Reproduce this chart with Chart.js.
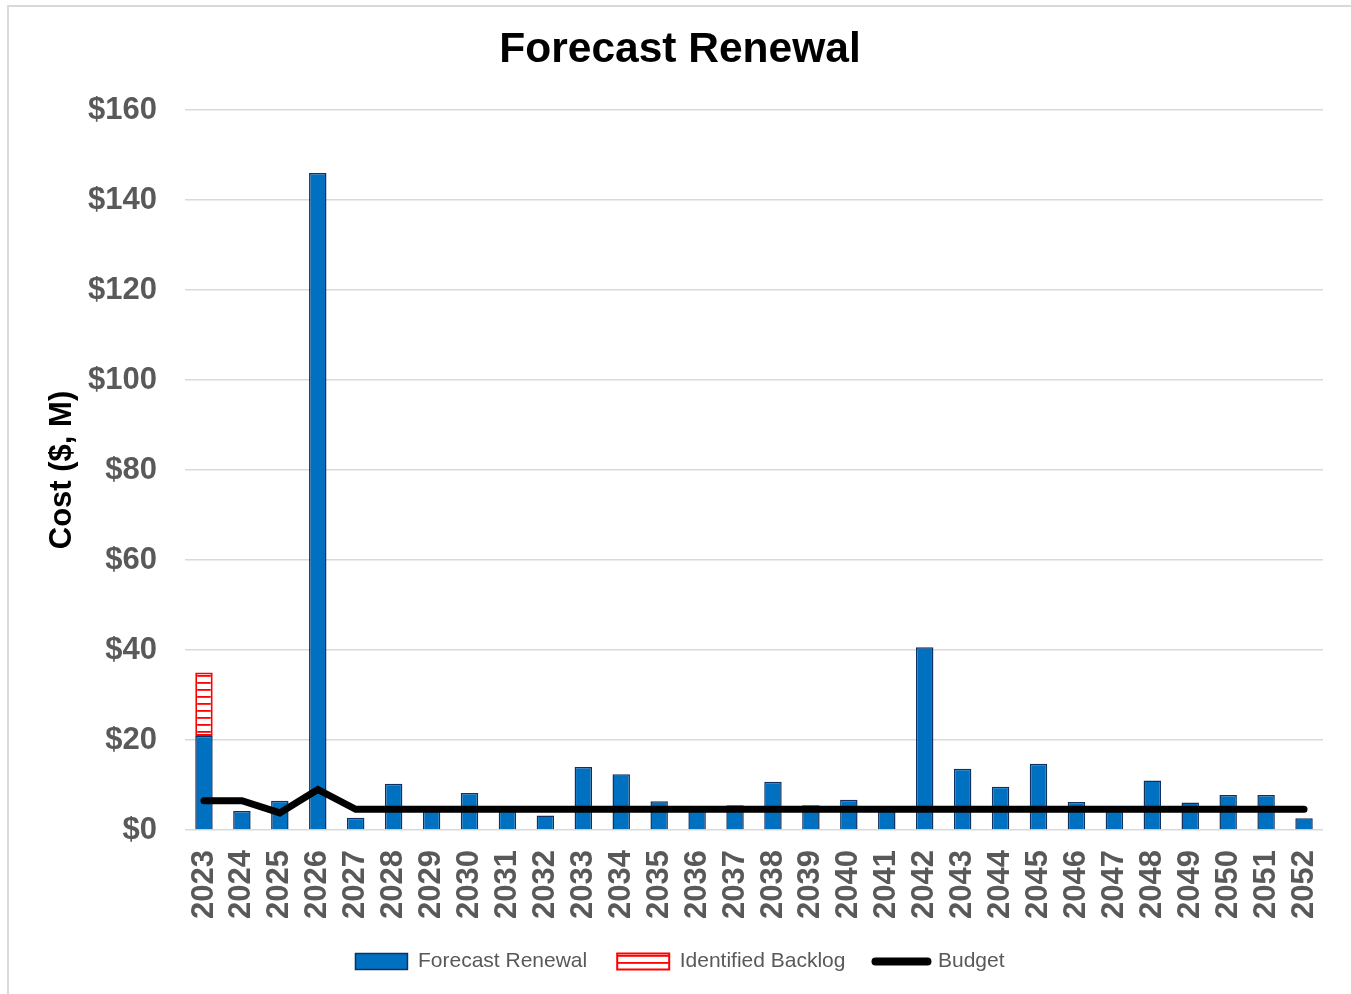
<!DOCTYPE html>
<html>
<head>
<meta charset="utf-8">
<script src="https://cdn.jsdelivr.net/npm/chart.js@4.4.0/dist/chart.umd.min.js"></script>
<style>
  html, body { margin: 0; padding: 0; background: #fff; overflow: hidden; }
  #wrap {
    position: absolute; left: 7px; top: 5px;
    width: 1342px; height: 987px;
    border-left: 2px solid #d9d9d9; border-top: 2px solid #d9d9d9;
  }
</style>
</head>
<body>
<div id="wrap"><canvas id="chart" width="1342" height="987"></canvas></div>
<script>
// Years on the x axis
const years = ['2023', '2024', '2025', '2026', '2027', '2028', '2029', '2030', '2031', '2032',
    '2033', '2034', '2035', '2036', '2037', '2038', '2039', '2040', '2041', '2042',
    '2043', '2044', '2045', '2046', '2047', '2048', '2049', '2050', '2051', '2052'];

// $M per year
const forecastRenewal = [20.9, 4.2, 6.5, 146, 2.7, 10.3, 4.5, 8.2, 4.5, 3.2,
    14.0, 12.4, 6.4, 4.5, 5.5, 10.7, 5.5, 6.7, 4.5, 40.6,
    13.6, 9.6, 14.7, 6.2, 4.5, 11.0, 6.1, 7.8, 7.8, 2.6];

const identifiedBacklog = [14.1, null, null, null, null, null, null, null, null, null,
    null, null, null, null, null, null, null, null, null, null,
    null, null, null, null, null, null, null, null, null, null];

const budget = [6.5, 6.5, 3.8, 9.0, 4.6, 4.6, 4.6, 4.6, 4.6, 4.6,
    4.6, 4.6, 4.6, 4.6, 4.6, 4.6, 4.6, 4.6, 4.6, 4.6,
    4.6, 4.6, 4.6, 4.6, 4.6, 4.6, 4.6, 4.6, 4.6, 4.6];

const yTicks = [0, 20, 40, 60, 80, 100, 120, 140, 160];

const FONT = "'Liberation Sans', Arial, sans-serif";
const GREY = '#595959';

// Red horizontal hatch used for the backlog bar
function makeHatch() {
    const c = document.createElement('canvas');
    c.width = 8; c.height = 7.5;
    const g = c.getContext('2d');
    g.fillStyle = '#fff';
    g.fillRect(0, 0, 8, 8);
    g.fillStyle = '#ff0000';
    g.fillRect(0, 3, 8, 1.8);
    return g.createPattern(c, 'repeat');
}
const hatch = makeHatch();

const ctx = document.getElementById('chart').getContext('2d');

new Chart(ctx, {
    type: 'bar',
    data: {
        labels: years,
        datasets: [
            {
                label: 'Forecast Renewal',
                data: forecastRenewal,
                backgroundColor: '#0070c0',
                borderColor: '#12305f',
                borderWidth: 1.5,
                borderSkipped: 'bottom',
                barPercentage: 0.46,
                categoryPercentage: 1,
            },
            {
                label: 'Identified Backlog',
                data: identifiedBacklog,
                backgroundColor: hatch,
                borderColor: '#ff0000',
                borderWidth: 2,
                borderSkipped: false,
                barPercentage: 0.46,
                categoryPercentage: 1,
            },
            {
                type: 'line',
                label: 'Budget',
                data: budget,
                borderColor: '#000',
                backgroundColor: '#000',
                borderWidth: 7,
                pointRadius: 0,
                borderCapStyle: 'round',
                borderJoinStyle: 'miter',
                tension: 0,
                fill: false,
                order: -1,
            },
        ],
    },
    options: {
        responsive: false,
        animation: false,
        layout: { padding: { left: 28, right: 28, top: 0, bottom: 12 } },
        plugins: {
            title: {
                display: true,
                text: 'Forecast Renewal',
                color: '#000',
                font: { family: FONT, size: 42.5, weight: 'bold' },
                padding: { top: 18, bottom: 34 },
            },
            legend: {
                position: 'bottom',
                labels: {
                    color: GREY,
                    font: { family: FONT, size: 21 },
                    usePointStyle: true,
                    pointStyleWidth: 52,
                    boxHeight: 16,
                    padding: 30,
                    sort: (a, b) => a.datasetIndex - b.datasetIndex,
                    generateLabels: (chart) => {
                        const items = Chart.defaults.plugins.legend.labels.generateLabels(chart);
                        items.forEach(it => {
                            if (it.datasetIndex === 2) {
                                it.pointStyle = 'line';
                                it.lineWidth = 8;
                                it.strokeStyle = '#000';
                                it.lineCap = 'round';
                            } else if (it.datasetIndex === 1) {
                                it.pointStyle = 'rect';
                                it.fillStyle = hatch;
                                it.strokeStyle = '#ff0000';
                                it.lineWidth = 2;
                            } else {
                                it.pointStyle = 'rect';
                                it.fillStyle = '#0070c0';
                                it.strokeStyle = '#12305f';
                                it.lineWidth = 1.5;
                            }
                        });
                        return items;
                    },
                },
            },
            tooltip: { enabled: false },
        },
        scales: {
            x: {
                stacked: true,
                grid: { display: false, drawTicks: false },
                border: { display: false },
                ticks: {
                    color: GREY,
                    font: { family: FONT, size: 31, weight: 'bold' },
                    maxRotation: 90,
                    minRotation: 90,
                    autoSkip: false,
                    padding: 20,
                },
                afterFit: (axis) => {
                    axis.height = 91;
                    axis.paddingLeft = 0;
                    axis.paddingRight = 0;
                },
            },
            y: {
                stacked: true,
                min: 0,
                max: 160,
                grid: { color: '#d9d9d9', lineWidth: 1.5, drawTicks: false },
                border: { display: false },
                afterBuildTicks: (axis) => {
                    axis.ticks = yTicks.map(v => ({ value: v }));
                },
                ticks: {
                    color: GREY,
                    font: { family: FONT, size: 31, weight: 'bold' },
                    padding: 28,
                    callback: (v) => '$' + v,
                },
                title: {
                    display: true,
                    text: 'Cost ($, M)',
                    color: '#000',
                    font: { family: FONT, size: 31, weight: 'bold' },
                    padding: { top: 7, bottom: 0 },
                },
                afterFit: (axis) => { axis.width = 148; },
            },
        },
    },
});
</script>
</body>
</html>
